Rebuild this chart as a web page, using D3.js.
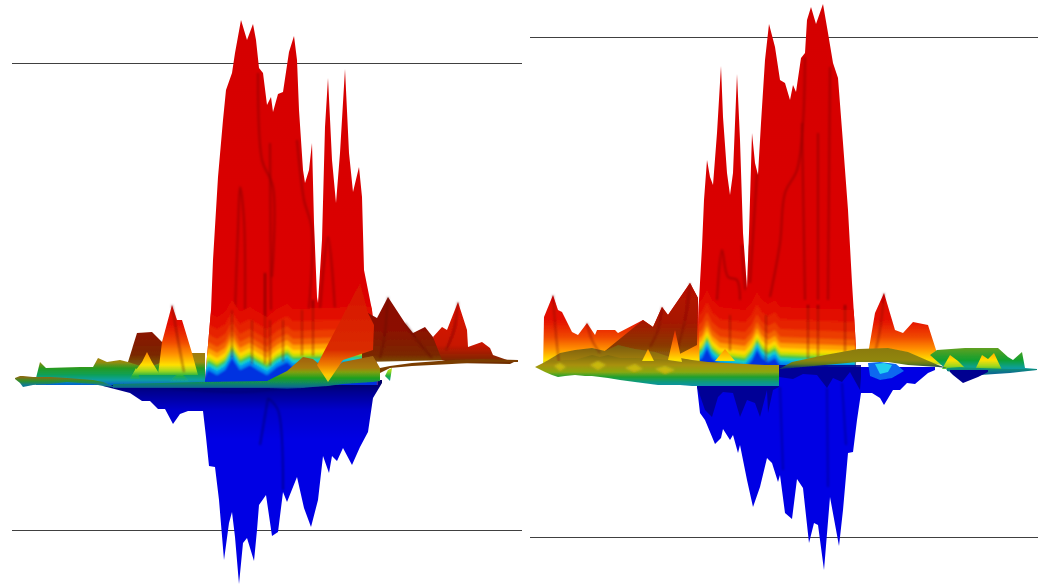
<!DOCTYPE html>
<html>
<head>
<meta charset="utf-8">
<script src="https://cdn.jsdelivr.net/npm/d3@7"></script>
<style>
  html, body { margin: 0; background: #fff; }
  svg { display: block; }
</style>
</head>
<body>
<div id="chart"></div>
<script>
// Series are [position, height] or [position, top, bottom]

// ---- left surface ----
const leftPeaks = [[193,0],[199,70],[201,120],[206,203],[211,260],[214,290],[220,307],[223,327],[229,360],[235,340],[241,356],[244,340],[247,312],[251,307],[255,275],[259,283],[261,268],[266,286],[271,288],[277,328],[282,344],[285,320],[287,270],[291,210],[293,197],[297,210],[300,237],[302,157],[305,83],[306,77],[310,140],[313,253],[316,302],[320,220],[324,177],[328,227],[333,311],[337,227],[341,188],[347,213],[350,183],[352,110],[360,70],[366,0]];
const leftWaterline = [[191,0],[196,10],[205,5],[213,10],[220,22],[228,10],[238,15],[246,10],[255,5],[265,13],[275,18],[281,13],[340,15],[366,15]];
const leftBlue = [[91,-6],[118,-13],[130,-21],[138,-21],[146,-29],[153,-29],[161,-44],[168,-34],[176,-31],[191,-31],[194,-57],[197,-86],[203,-87],[207,-120],[212,-180],[217,-143],[220,-132],[223,-157],[227,-204],[231,-163],[235,-158],[242,-181],[245,-150],[247,-125],[254,-115],[260,-156],[266,-152],[271,-112],[275,-122],[285,-97],[292,-128],[299,-147],[306,-120],[311,-76],[317,-93],[320,-76],[325,-81],[331,-68],[340,-85],[348,-67],[356,-52],[361,-18],[370,-3]];
const leftPlateau = [[24,2],[28,18],[34,12],[68,13],[81,13],[86,22],[95,18],[108,20],[116,18],[125,26],[150,30],[160,30],[180,27],[193,27],[193,0]];
const leftBackHill = [[116,18],[125,47],[140,48],[150,38],[156,20],[135,12]];
const leftFrontHill = [[146,5],[150,38],[160,75],[165,60],[170,60],[180,27],[186,5]];
const leftGlow = [[120,5],[130,18],[135,28],[140,18],[148,5]];
const leftDarkHills = [[350,30],[356,67],[365,62],[376,83],[393,57],[401,47],[413,53],[421,43],[432,28],[440,20],[350,18]];
const leftRedHills = [[421,43],[430,53],[435,50],[446,78],[455,50],[456,33],[470,38],[478,32],[481,25],[498,19],[506,20],[498,16],[440,17],[430,20]];
const leftBrownStrip = [[368,12,7],[378,14,12],[400,17,14],[440,20,16],[470,21,18],[506,20,18]];
const leftRearStrip = [[3,2,1],[8,4,-3],[11,4,-7],[21,3,-5],[38,3,-4],[55,2,-2],[81,0,-4],[91,-2,-6],[101,-6,-7]];
const leftSheet = [[101,-4,-8],[150,-3,-8],[188,-2,-8],[255,-1,-8],[275,9,-9],[291,23,-8],[301,21,-7],[316,8,-6],[331,18,-4],[361,24,-2],[368,12,-1]];
const leftCone = [[348,97],[325,53],[305,15],[316,-2],[331,20],[361,30],[362,55],[356,67]];
const leftSpikes = [[[118,1],[124,12],[128,1]],[[157,-2],[168,8],[178,-2]],[[373,4],[376,10],[380,12],[378,-1]]];
const leftRibs = [
  [[223,70],[226,150],[228,193],[232,160],[233,70]],
  [[246,307],[250,220],[261,193],[260,103]],
  [[258,237],[259,70]],
  [[308,70],[316,143],[323,70]],
  [[285,240],[288,210],[292,180],[300,150],[296,60]],
  [[220,70],[220,22]], [[240,60],[240,16]], [[253,107],[253,16]], [[258,60],[258,14]],
  [[271,60],[271,18]], [[290,70],[290,24]], [[301,80],[301,24]]
];
const leftBlueRibs = [[[256,-18],[248,-65]], [[256,-18],[266,-30],[271,-110]], [[160,-8],[230,-12],[290,-6],[364,-6]]];
const leftHillRibs = [[[376,83],[372,40],[368,22]], [[393,57],[405,40],[420,22]], [[446,78],[442,50],[434,30]], [[160,75],[166,40],[172,8]]];

// ---- right surface ----
const rightPeaks = [[167,0],[169,75],[172,128],[174,175],[177,215],[180,198],[183,190],[187,242],[191,309],[193,258],[197,202],[200,180],[203,202],[207,301],[210,235],[213,142],[217,87],[219,142],[222,242],[225,212],[228,200],[231,252],[235,315],[239,351],[245,328],[250,295],[255,292],[260,275],[263,290],[266,283],[271,317],[275,322],[277,355],[281,368],[286,351],[293,371],[298,342],[303,312],[308,297],[313,232],[318,165],[322,92],[326,28],[326,0]];
const rightWaterline = [[167,13],[172,17],[177,27],[182,17],[190,10],[215,7],[222,15],[227,25],[232,17],[238,13],[245,17],[250,10],[326,7]];
const rightBlue = [[167,-12],[170,-38],[175,-45],[185,-69],[191,-63],[193,-54],[200,-65],[203,-60],[208,-78],[210,-70],[213,-85],[217,-105],[223,-132],[230,-112],[237,-83],[242,-88],[248,-107],[250,-100],[255,-138],[262,-144],[267,-104],[273,-113],[279,-168],[284,-148],[288,-150],[294,-195],[300,-122],[309,-171],[313,-135],[318,-78],[323,-77],[327,-45],[331,-18],[342,-18],[350,-23],[354,-30],[363,-15],[370,-15],[377,-8],[385,-9],[398,2],[405,5]];
const rightBlueTail = [[420,3],[423,0],[433,-8],[448,-2],[458,3]];
const rightScallops = [[167,-12],[175,-35],[182,-42],[188,-22],[193,-17],[203,-18],[210,-42],[217,-25],[225,-28],[230,-42],[237,-15],[238,-38],[243,-15],[249,-12],[249,-2],[263,-4],[273,1],[287,0],[297,-13],[303,-3],[312,-7],[320,3],[330,-15],[331,-2]];
const rightBlueRibs = [[[297,-13],[298,-112]], [[250,-12],[253,-95]], [[312,-8],[316,-70]]];
const rightLeftHills = [[13,5],[14,58],[23,80],[28,65],[32,63],[42,43],[48,40],[57,52],[65,40],[67,45],[85,45],[88,42],[113,55],[123,48],[132,68],[138,60],[160,92],[168,77],[170,0]];
const rightDarkHill = [[70,20],[113,55],[123,48],[132,68],[138,60],[160,92],[168,77],[167,30],[142,17]];
const rightMidHills = [[15,13],[30,22],[45,25],[62,27],[75,24],[88,30],[105,26],[125,23],[140,18],[160,15],[20,5]];
const rightRightHills = [[337,15],[345,62],[354,82],[365,45],[373,42],[383,53],[398,50],[407,22],[415,10]];
const rightPlateau = [[400,20],[407,25],[435,27],[468,27],[478,18],[483,15],[492,23],[495,7],[507,6],[507,5],[440,3],[417,5]];
const rightPlateauBumps = [[[412,6],[420,20],[428,14],[436,6]],[[445,5],[452,20],[458,16],[464,22],[472,5]]];
const rightTealStrip = [[417,7,4],[430,8,1],[450,7,0],[480,6,2],[507,6,5]];
const rightSheetFront = [[5,8,8],[15,13,3],[22,15,0],[28,14,-2],[35,15,-1],[45,15,0],[55,18,-1],[62,20,-1],[70,18,-2],[78,20,-3],[90,17,-5],[105,17,-7],[128,16,-10],[138,15,-10],[150,17,-10],[162,15,-11],[178,13,-11],[235,10,-11],[249,10,-11]];
const rightSheetBack = [[249,6,6],[262,13,7],[295,20,10],[328,26,13],[358,27,13],[378,23,10],[408,10,8],[417,7,7]];
const rightPools = [[[338,12],[350,13],[366,11],[374,4],[362,-3],[350,-5],[340,-1]]];
const rightPoolCores = [[[345,11],[354,12],[362,10],[358,3],[350,1]]];
const rightSpikes = [[[138,15],[145,45],[152,13]],[[185,14],[195,26],[205,14]],[[112,14],[118,26],[124,14]]];
const rightSpots = [[[24,9],[30,12],[36,8],[30,4]],[[60,10],[68,14],[76,10],[68,5]],[[95,7],[105,11],[113,6],[104,3]],[[125,6],[135,9],[145,5],[135,1]]];
const rightRibs = [
  [[187,75],[192,125],[198,98],[207,95],[210,75]],
  [[240,78],[250,132],[255,182],[267,205],[273,252],[275,318]],
  [[227,202],[220,92]],
  [[275,75],[272,252]],
  [[288,75],[288,242]],
  [[298,75],[300,308]],
  [[212,130],[215,85],[218,130]],
  [[278,70],[278,16]], [[288,70],[288,14]], [[315,70],[315,14]], [[200,60],[200,24]], [[236,60],[236,14]]
];
const rightHillRibs = [[[23,80],[26,40],[29,12]], [[57,52],[62,35],[70,22]], [[132,68],[128,45],[120,28]], [[160,92],[155,55],[147,25]], [[354,82],[350,45],[345,22]]];

// reference lines
const leftLines = [317, -150];
const rightLines = [338, -162];

// colour maps, [height, colour]
const heatStops = [[320,"#d60000"],[90,"#d80000"],[55,"#e41000"],[38,"#f04800"],[26,"#ff9000"],[15,"#ffe000"],[9,"#a0d820"],[4,"#20b040"],[-1,"#10a0a0"],[-6,"#0050e0"]];
const wallStops = [[370,"#d40000"],[90,"#dc0000"],[50,"#e00800"]];
const darkStops = [[95,"#8a0a00"],[50,"#8c1000"],[25,"#7a2800"],[12,"#7a6a10"]];
const warmDarkStops = [[95,"#b81000"],[55,"#a81400"],[30,"#8a3800"],[14,"#8a7010"]];
const redStops = [[80,"#dc1000"],[35,"#c81400"],[22,"#8a2400"],[16,"#6a3000"]];
const coneStops = [[97,"#d81000"],[30,"#da2c00"],[15,"#f08000"],[5,"#ffc800"],[-2,"#c8d820"]];
const blueStops = [[5,"#00004a"],[-12,"#000090"],[-30,"#0000cc"],[-60,"#0000e4"]];
const leftSheetStops = [[25,"#a05c10"],[12,"#a87a10"],[8,"#80a010"],[2,"#20a020"],[-3,"#108a60"],[-7,"#0a6a90"],[-9,"#002090"]];
const leftPlateauStops = [[27,"#a07a10"],[18,"#9a8a10"],[12,"#2a9a20"],[6,"#10a050"],[0,"#10a0a0"],[-5,"#0060d0"]];
const rearStops = [[3,"#8a6a10"],[-1,"#30902a"],[-5,"#107a90"]];
const midStops = [[30,"#7a5a10"],[15,"#a08010"],[5,"#a89010"]];
const sheetStops = [[20,"#806a10"],[10,"#a89010"],[3,"#8aa810"],[-2,"#20a030"],[-7,"#0f9a80"],[-11,"#1090a8"]];
const backSheetStops = [[27,"#8a7a10"],[15,"#90860e"],[11,"#607a18"],[7,"#0a3a6a"]];
const plateauStops = [[27,"#60a020"],[15,"#10a030"],[8,"#10a090"],[3,"#0090c0"]];
const tealStops = [[8,"#10a070"],[2,"#0a6a90"]];

// bands climbing up from the waterline, [offset, colour]
const bandOffsets = [58, 46, 36, 28, 22, 17, 13, 10, 7, 4, 0];
const bandColours = ["#e20c00", "#e62000", "#ec3c00", "#f46400", "#ffa000", "#ffd800", "#c0e000", "#40c840", "#10d0d0", "#0090f0", "#0030e0"];

const width = 1038, height = 585;
const svg = d3.select("#chart").append("svg").attr("width", width).attr("height", height);
const defs = svg.append("defs");
defs.append("filter").attr("id", "soft").append("feGaussianBlur").attr("stdDeviation", 0.5);
defs.append("filter").attr("id", "softer").append("feGaussianBlur").attr("stdDeviation", 1.1);

function drawPanel(id, xRange, yDomain, yRange, lines, draw) {
  const x = d3.scaleLinear().domain([0, 510]).range(xRange);
  const y = d3.scaleLinear().domain(yDomain).range(yRange);

  // lines sit behind the surface
  svg.append("g").selectAll("line").data(lines).join("line")
    .attr("x1", xRange[0]).attr("x2", Math.min(xRange[1], width))
    .attr("y1", d => Math.round(y(d)) + 0.5).attr("y2", d => Math.round(y(d)) + 0.5)
    .attr("stroke", "#404040").attr("stroke-width", 1);

  const g = svg.append("g").attr("filter", "url(#soft)");

  const grad = (name, stops) => {
    const gid = id + name;
    const zs = stops.map(s => s[0]);
    const top = d3.max(zs), bottom = d3.min(zs);
    const lg = defs.append("linearGradient").attr("id", gid)
      .attr("gradientUnits", "userSpaceOnUse")
      .attr("x1", 0).attr("x2", 0).attr("y1", y(top)).attr("y2", y(bottom));
    lg.selectAll("stop").data(stops).join("stop")
      .attr("offset", d => (d[0] - top) / (bottom - top))
      .attr("stop-color", d => d[1]);
    return `url(#${gid})`;
  };
  const area = floor => d3.area().x(d => x(d[0])).y1(d => y(d[1]))
    .y0(d => y(d.length > 2 ? d[2] : floor));
  const closed = d3.line().x(d => x(d[0])).y(d => y(d[1])).curve(d3.curveLinearClosed);
  const open = d3.line().x(d => x(d[0])).y(d => y(d[1])).curve(d3.curveCatmullRom);

  const api = {
    band(data, fill, floor) { return g.append("path").attr("d", area(floor)(data)).attr("fill", fill); },
    poly(data, fill) { return g.append("path").attr("d", closed(data)).attr("fill", fill); },
    grad,
    wall(peaks, waterline, ribs) {
      defs.append("clipPath").attr("id", id + "clip").append("path").attr("d", area(-5)(peaks));
      g.append("path").attr("d", area(-5)(peaks)).attr("fill", grad("wall", wallStops));
      const w = g.append("g").attr("clip-path", `url(#${id}clip)`);
      api.ribs(w, ribs, "#8a0000", 0.6, 2);
      // contour bands shifted up from the waterline
      const bands = w.append("g").attr("filter", "url(#softer)");
      bandOffsets.forEach((off, i) => {
        bands.append("path")
          .attr("d", area(-12)(waterline.map(d => [d[0], d[1] + off])))
          .attr("fill", bandColours[i]);
      });
      api.ribs(w, ribs.filter(r => r[r.length - 1][1] < 30), "#7a1000", 0.5, 1.6);
    },
    ribs(into, ribs, colour, opacity, size) {
      into.append("g").attr("filter", "url(#softer)").selectAll("path").data(ribs).join("path")
        .attr("d", d => open(d)).attr("fill", "none")
        .attr("stroke", colour).attr("stroke-opacity", opacity).attr("stroke-width", size);
    },
    g
  };
  draw(api);
}

// left surface
drawPanel("l", [12, 522], [317, -150], [63, 530], leftLines, p => {
  const heat = p.grad("heat", heatStops);
  p.band(leftBlue, p.grad("blue", blueStops), 0);
  p.ribs(p.g, leftBlueRibs, "#000070", 0.6, 2);
  p.wall(leftPeaks, leftWaterline, leftRibs);
  p.band(leftPlateau, p.grad("plateau", leftPlateauStops), -5);
  p.poly(leftBackHill, p.grad("dark", darkStops));
  p.poly(leftFrontHill, heat);
  p.poly(leftGlow, heat);
  p.poly(leftDarkHills, p.grad("darkr", darkStops));
  p.poly(leftRedHills, p.grad("red", redStops));
  p.ribs(p.g, leftHillRibs, "#5a0000", 0.5, 1.6);
  p.band(leftBrownStrip, "#7a3c00");
  p.band(leftRearStrip, p.grad("rear", rearStops));
  leftSpikes.forEach(s => p.poly(s, heat));
  p.band(leftSheet, p.grad("sheet", leftSheetStops));
  p.poly(leftCone, p.grad("cone", coneStops));
});

// right surface
drawPanel("r", [530, 1040], [338, -162], [37, 537], rightLines, p => {
  p.wall(rightPeaks, rightWaterline, rightRibs);
  const heat = p.grad("heat", heatStops);
  p.poly(rightLeftHills, heat);
  p.poly(rightDarkHill, p.grad("dark", warmDarkStops));
  p.poly(rightMidHills, p.grad("mid", midStops));
  p.poly(rightRightHills, heat);
  p.ribs(p.g, rightHillRibs, "#6a0000", 0.45, 1.6);
  p.poly(rightPlateau, p.grad("plat", plateauStops));
  rightPlateauBumps.forEach(s => p.poly(s, heat));
  p.band(rightTealStrip, p.grad("teal", tealStops));
  p.band(rightBlue, "#0000e4", 8);
  p.band(rightBlueTail, "#000090", 5);
  p.band(rightScallops, "#000088", 10).attr("fill-opacity", 0.85);
  p.ribs(p.g, rightBlueRibs, "#000090", 0.6, 2);
  rightPools.forEach(s => p.poly(s, "#0868f0"));
  rightPoolCores.forEach(s => p.poly(s, "#20d0f0"));
  p.band(rightSheetBack, p.grad("back", backSheetStops));
  p.band(rightSheetFront, p.grad("sheet", sheetStops));
  rightSpots.forEach(s => p.poly(s, "#c8b810").attr("filter", "url(#softer)"));
  rightSpikes.forEach(s => p.poly(s, heat));
});
</script>
</body>
</html>
